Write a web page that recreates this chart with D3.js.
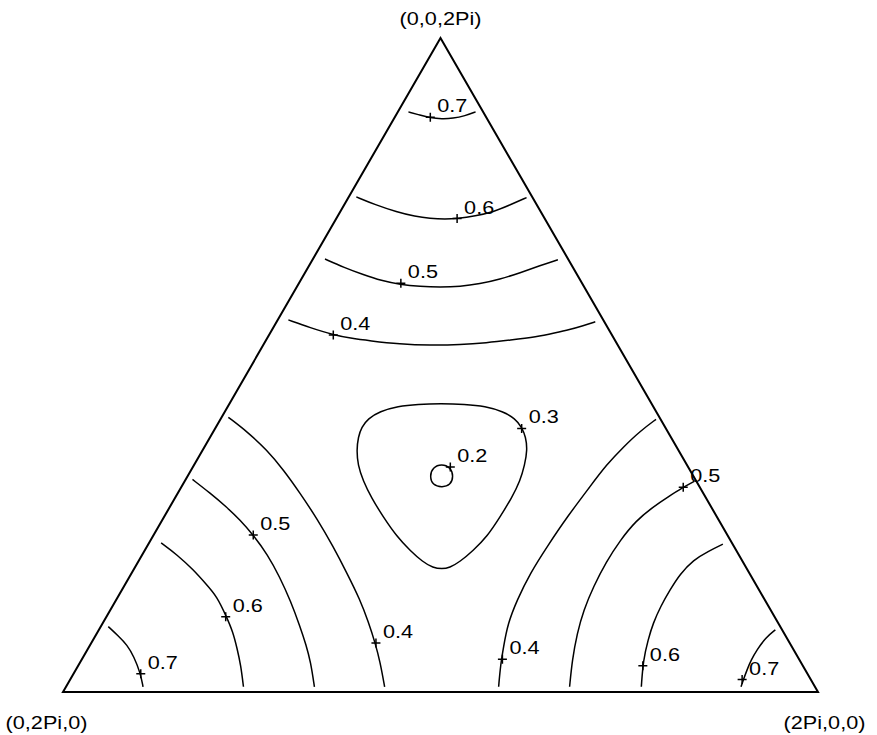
<!DOCTYPE html>
<html>
<head>
<meta charset="utf-8">
<script src="https://cdn.jsdelivr.net/npm/d3@7"></script>
<style>
  html, body { margin: 0; padding: 0; background: #fff; }
  svg { display: block; }
  text { font-family: "Liberation Sans", Arial, Helvetica, sans-serif; font-size: 19px; fill: #000; }
</style>
</head>
<body>
<svg id="chart" width="877" height="735"></svg>
<script>
// Ternary phase diagram: (φ1, φ2, φ3) with φ1 + φ2 + φ3 = 2π.
// Every point is stored as [φ1 / 2π, φ3 / 2π]; the φ2 share is the remainder.

const cornerLabels = ["(2Pi,0,0)", "(0,2Pi,0)", "(0,0,2Pi)"];
const cornerPoints = [[1, 0], [0, 0], [0, 1]];

const levelNames = ["0.2", "0.3", "0.4", "0.5", "0.6", "0.7"];

// Contour lines around the (0,0,2Pi) corner
const top07 = [[0.014,0.887],[0.032,0.882],[0.047,0.878],[0.064,0.876],[0.078,0.877],[0.092,0.881],[0.103,0.887]];
const top06 = [[0.010,0.757],[0.041,0.745],[0.075,0.734],[0.103,0.727],[0.124,0.724],[0.145,0.723],[0.160,0.724],[0.182,0.728],[0.203,0.734],[0.220,0.745],[0.236,0.756]];
const top05 = [[0.016,0.662],[0.048,0.649],[0.079,0.638],[0.107,0.629],[0.135,0.623],[0.163,0.620],[0.190,0.619],[0.216,0.620],[0.240,0.624],[0.263,0.631],[0.285,0.641],[0.306,0.652],[0.325,0.661]];
const top04 = [[0.014,0.569],[0.049,0.557],[0.085,0.546],[0.110,0.541],[0.138,0.537],[0.180,0.532],[0.221,0.530],[0.261,0.531],[0.294,0.534],[0.323,0.538],[0.356,0.543],[0.377,0.549],[0.394,0.554],[0.409,0.560],[0.422,0.566]];

// Contour lines around the (0,2Pi,0) corner
const left07 = [[0.010,0.100],[0.030,0.086],[0.049,0.072],[0.067,0.054],[0.088,0.029],[0.102,0.008]];
const left06 = [[0.016,0.228],[0.046,0.210],[0.079,0.187],[0.107,0.165],[0.131,0.146],[0.159,0.115],[0.179,0.092],[0.197,0.067],[0.215,0.041],[0.235,0.008]];
const left05 = [[0.009,0.325],[0.043,0.304],[0.075,0.283],[0.103,0.263],[0.132,0.240],[0.166,0.210],[0.199,0.176],[0.232,0.139],[0.264,0.100],[0.286,0.072],[0.305,0.046],[0.329,0.008]];
const left04 = [[0.009,0.420],[0.045,0.398],[0.085,0.370],[0.123,0.339],[0.162,0.304],[0.204,0.265],[0.247,0.222],[0.285,0.182],[0.323,0.141],[0.351,0.107],[0.376,0.075],[0.397,0.046],[0.422,0.008]];

// Contour lines around the (2Pi,0,0) corner
const right07 = [[0.896,0.095],[0.889,0.083],[0.887,0.064],[0.887,0.049],[0.889,0.034],[0.892,0.018],[0.894,0.008]];
const right06 = [[0.761,0.226],[0.747,0.215],[0.734,0.202],[0.727,0.180],[0.726,0.156],[0.726,0.132],[0.729,0.105],[0.735,0.080],[0.744,0.049],[0.762,0.008]];
const right05 = [[0.675,0.322],[0.665,0.313],[0.652,0.298],[0.640,0.283],[0.628,0.262],[0.622,0.232],[0.620,0.199],[0.622,0.161],[0.627,0.125],[0.636,0.090],[0.650,0.049],[0.667,0.008]];
const right04 = [[0.577,0.417],[0.565,0.399],[0.555,0.375],[0.546,0.347],[0.541,0.314],[0.534,0.269],[0.530,0.222],[0.528,0.182],[0.531,0.141],[0.537,0.104],[0.549,0.069],[0.559,0.041],[0.573,0.008]];

// Closed contours around the central minimum
const center03 = [[0.280,0.441],[0.312,0.440],[0.341,0.437],[0.368,0.429],[0.390,0.418],[0.405,0.405],[0.418,0.390],[0.430,0.370],[0.438,0.347],[0.444,0.323],[0.446,0.297],[0.445,0.268],[0.443,0.238],[0.435,0.216],[0.426,0.199],[0.417,0.190],[0.408,0.188],[0.395,0.190],[0.377,0.199],[0.352,0.216],[0.323,0.238],[0.290,0.268],[0.260,0.297],[0.236,0.323],[0.217,0.347],[0.204,0.370],[0.196,0.390],[0.193,0.405],[0.195,0.418],[0.205,0.429],[0.225,0.437],[0.250,0.440]];
const center02 = [[0.351,0.330],[0.341,0.342],[0.328,0.347],[0.320,0.342],[0.322,0.330],[0.332,0.318],[0.345,0.314],[0.353,0.318]];

// Label anchors ("+" marks) and their level text
const markPoints = [
  [0.047,0.879],[0.160,0.724],[0.135,0.625],[0.085,0.546],
  [0.406,0.403],[0.341,0.344],
  [0.089,0.028],[0.158,0.115],[0.132,0.240],[0.377,0.075],
  [0.557,0.050],[0.748,0.040],[0.890,0.019],[0.665,0.313]
];
const markLevels = ["0.7","0.6","0.5","0.4","0.3","0.2","0.7","0.6","0.5","0.4","0.4","0.6","0.7","0.5"];

const openContours = [top07, top06, top05, top04, left07, left06, left05, left04, right07, right06, right05, right04];

// ---- drawing ----
const svg = d3.select("#chart");

// horizontal position runs along the base, vertical along the altitude
const x = d3.scaleLinear().domain([0, 1]).range([63, 818]);
const y = d3.scaleLinear().domain([0, 1]).range([692, 38]);
const project = ([a, c]) => [x(a + c / 2), y(c)];

// triangle frame
svg.append("path")
  .attr("d", d3.line()(cornerPoints.map(project)) + "Z")
  .attr("fill", "none")
  .attr("stroke", "#000")
  .attr("stroke-width", 2)
  .attr("stroke-linejoin", "miter");

const px = d => project(d)[0];
const py = d => project(d)[1];
const openLine = d3.line().x(px).y(py).curve(d3.curveBasis);
const smoothLoop = d3.line().x(px).y(py).curve(d3.curveBasisClosed);
const roundLoop = d3.line().x(px).y(py).curve(d3.curveCatmullRomClosed.alpha(0.5));

const contours = svg.append("g")
  .attr("fill", "none")
  .attr("stroke", "#000")
  .attr("stroke-width", 1.5);

contours.selectAll("path.open")
  .data(openContours)
  .join("path")
  .attr("class", "open")
  .attr("d", openLine);

contours.append("path").attr("d", smoothLoop(center03));
contours.append("path").attr("d", roundLoop(center02));

// "+" marks with level labels
const marks = svg.append("g").selectAll("g")
  .data(markPoints.map((p, i) => ({ p, label: markLevels[i] })))
  .join("g")
  .attr("transform", d => `translate(${px(d.p)},${py(d.p)})`);

marks.append("path")
  .attr("d", "M-4.5,0H4.5M0,-4.5V4.5")
  .attr("stroke", "#000")
  .attr("stroke-width", 1.5);

marks.append("text")
  .attr("transform", "translate(7,-5) scale(1.14,1)")
  .text(d => d.label);

// corner labels
const cornerOffsets = [[6.5, 37], [-16.5, 37], [0, -13]];
svg.append("g").selectAll("text")
  .data(cornerLabels.map((t, i) => ({ t, p: cornerPoints[i], o: cornerOffsets[i] })))
  .join("text")
  .attr("text-anchor", "middle")
  .attr("transform", d => `translate(${px(d.p) + d.o[0]},${py(d.p) + d.o[1]}) scale(1.14,1)`)
  .text(d => d.t);
</script>
</body>
</html>
